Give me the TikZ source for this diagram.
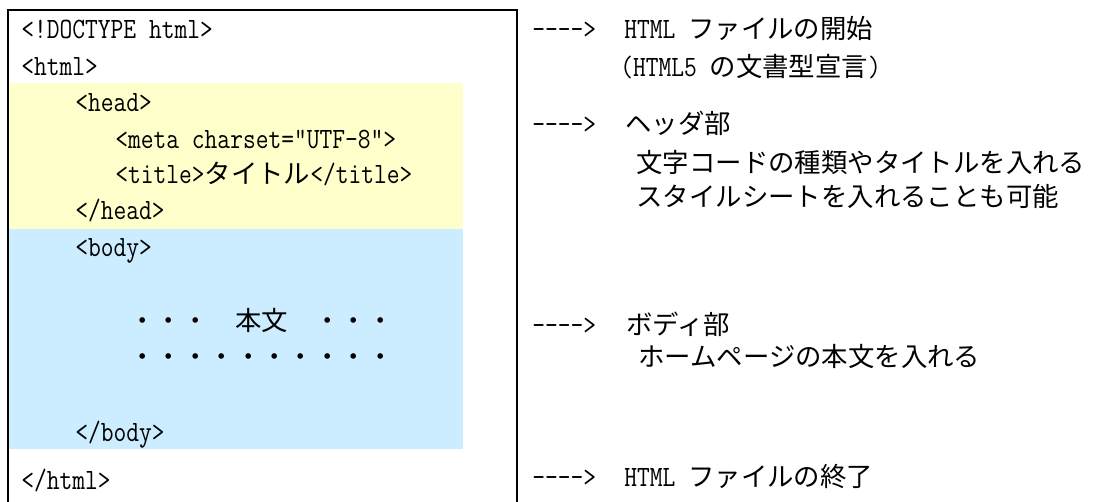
\documentclass[tikz,border=0pt]{standalone}
\usepackage{graphicx}
\usepackage{fontspec}
\newfontfamily\jp[Scale=0.895]{Noto Sans CJK JP}
\definecolor{headfill}{RGB}{255,255,204}
\definecolor{bodyfill}{RGB}{204,236,255}
\newcommand{\lat}[1]{\scalebox{0.84}[1]{#1}}
\newcommand{\arr}{\lat{\textemdash\textemdash\textemdash\textemdash>}}
\begin{document}
\begin{tikzpicture}[x=0.5pt,y=-0.5pt,
    code/.style={anchor=base west,inner sep=0pt,font=\fontsize{14.75}{16}\selectfont\ttfamily}]
  \useasboundingbox (0,0) rectangle (1095,502);
  % coloured parts of the source
  \fill[headfill] (8,83) rectangle (463,229);
  \fill[bodyfill] (8,229) rectangle (463,449);
  \draw[line width=1pt] (8,502) -- (8,10) -- (517,10) -- (517,502);
  % source lines
  \node[code] (doctype) at (21,39) {\lat{<!DOCTYPE html>}};
  \node[code] (html) at (21,76) {\lat{<html>}};
  \node[code] (head) at (75,112) {\lat{<head>}};
  \node[code] (meta) at (115,149) {\lat{<meta charset="UTF-8">}};
  \node[code] (title) at (115,184) {\lat{<title>}{\jp タイトル}\lat{</title>}};
  \node[code] (headend) at (75,219) {\lat{</head>}};
  \node[code] (body) at (75,256) {\lat{<body>}};
  \node[code] (dotsa) at (129,330) {\jp ・・・　本文　・・・};
  \node[code] (dotsb) at (129,366) {\jp ・・・・・・・・・・};
  \node[code] (bodyend) at (75,441) {\lat{</body>}};
  \node[code] (htmlend) at (21,489) {\lat{</html>}};
  % notes
  \node[code] (arra) at (532,39) {\arr};
  \node[code] (starta) at (624,39) {\lat{HTML }{\jp ファイルの開始}};
  \node[code] (startb) at (620,77) {\lat{(HTML5 }{\jp の文書型宣言}\lat{)}};
  \node[code] (arrb) at (532,134) {\arr};
  \node[code] (heada) at (625,134) {\jp ヘッダ部};
  \node[code] (headb) at (636,172) {\jp 文字コードの種類やタイトルを入れる};
  \node[code] (headc) at (636,206) {\jp スタイルシートを入れることも可能};
  \node[code] (arrc) at (532,334) {\arr};
  \node[code] (bodya) at (626,334) {\jp ボディ部};
  \node[code] (bodyb) at (638,366) {\jp ホームページの本文を入れる};
  \node[code] (arrd) at (532,486) {\arr};
  \node[code] (enda) at (624,486) {\lat{HTML }{\jp ファイルの終了}};
\end{tikzpicture}
\end{document}
